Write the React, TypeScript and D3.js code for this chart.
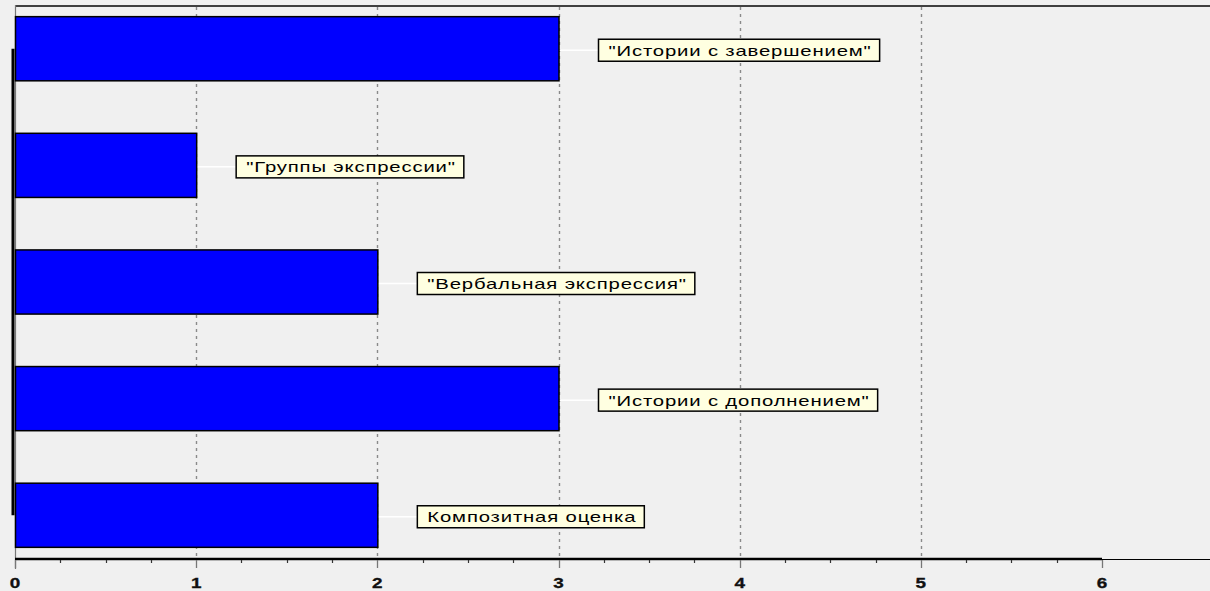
import React, { useEffect, useRef } from "react";
import * as d3 from "d3";

const categories = [
  "\"Истории с завершением\"",
  "\"Группы экспрессии\"",
  "\"Вербальная экспрессия\"",
  "\"Истории с дополнением\"",
  "Композитная оценка",
];
const values = [3, 1, 2, 3, 2];
const xTicks = [0, 1, 2, 3, 4, 5, 6];
const gridTicks = [1, 2, 3, 4, 5];

const W = 1210;
const H = 591;
const SX = 1.4;

export default function App() {
  const ref = useRef<SVGSVGElement>(null);

  useEffect(() => {
    const svg = d3.select(ref.current);
    svg.selectAll("*").remove();

    const x = d3.scaleLinear().domain([0, 6]).range([15, 1102]);
    const y = d3
      .scaleBand<string>()
      .domain(categories)
      .range([5, 559])
      .paddingInner(0.45)
      .paddingOuter(0.1);

    svg.append("rect").attr("width", W).attr("height", H).attr("fill", "#f0f0f0");

    // gridlines
    svg
      .selectAll("line.grid")
      .data(gridTicks)
      .join("line")
      .attr("x1", (d) => Math.round(x(d)) + 0.5)
      .attr("x2", (d) => Math.round(x(d)) + 0.5)
      .attr("y1", 7)
      .attr("y2", 558)
      .attr("stroke", "#8a8a8a")
      .attr("stroke-width", 1.4)
      .attr("stroke-dasharray", "3 4");

    // frame top
    svg
      .append("line")
      .attr("x1", 15)
      .attr("x2", W)
      .attr("y1", 6)
      .attr("y2", 6)
      .attr("stroke", "#404040")
      .attr("stroke-width", 2);
    // frame left
    svg
      .append("line")
      .attr("x1", 15.5)
      .attr("x2", 15.5)
      .attr("y1", 5)
      .attr("y2", 569)
      .attr("stroke", "#777")
      .attr("stroke-width", 1.2);
    // left black axis line (spanning category centers)
    const c0 = (y(categories[0]) as number) + y.bandwidth() / 2;
    const c1 = (y(categories[categories.length - 1]) as number) + y.bandwidth() / 2;
    svg
      .append("line")
      .attr("x1", 13)
      .attr("x2", 13)
      .attr("y1", c0)
      .attr("y2", c1)
      .attr("stroke", "#000")
      .attr("stroke-width", 3);

    // connectors
    svg
      .selectAll("line.conn")
      .data(values)
      .join("line")
      .attr("x1", (d) => x(d))
      .attr("x2", (d) => x(d) + 40)
      .attr("y1", (_, i) => (y(categories[i]) as number) + y.bandwidth() / 2 + 1.5)
      .attr("y2", (_, i) => (y(categories[i]) as number) + y.bandwidth() / 2 + 1.5)
      .attr("stroke", "#ffffff")
      .attr("stroke-width", 1.5);

    // bars
    svg
      .selectAll("rect.bar")
      .data(values)
      .join("rect")
      .attr("x", x(0) + 0.5)
      .attr("y", (_, i) => y(categories[i]) as number)
      .attr("width", (d) => x(d) - x(0))
      .attr("height", y.bandwidth())
      .attr("fill", "#0000ff")
      .attr("stroke", "#000")
      .attr("stroke-width", 1.5);

    // labels
    const lg = svg
      .selectAll("g.lab")
      .data(values)
      .join("g")
      .attr(
        "transform",
        (d, i) =>
          `translate(${x(d) + 40},${(y(categories[i]) as number) + y.bandwidth() / 2 + 1.5})`
      );
    const boxes = lg
      .append("rect")
      .attr("y", -11)
      .attr("height", 22)
      .attr("fill", "#ffffe1")
      .attr("stroke", "#000")
      .attr("stroke-width", 1.5);
    const texts = lg
      .append("text")
      .attr("transform", `translate(10,5.5) scale(${SX},1)`)
      .attr("font-family", "Arial, 'Liberation Sans', sans-serif")
      .attr("font-size", 14.5)
      .attr("letter-spacing", 0.6)
      .attr("fill", "#000")
      .text((_, i) => categories[i]);
    texts.each(function (_, i) {
      const w = (this as SVGTextElement).getComputedTextLength() * SX;
      d3.select(boxes.nodes()[i]).attr("width", w + 18);
    });

    // bottom axis
    svg
      .append("line")
      .attr("x1", 15)
      .attr("x2", W)
      .attr("y1", 559.5)
      .attr("y2", 559.5)
      .attr("stroke", "#000")
      .attr("stroke-width", 1.2);
    svg
      .append("line")
      .attr("x1", 15)
      .attr("x2", x(6))
      .attr("y1", 559)
      .attr("y2", 559)
      .attr("stroke", "#000")
      .attr("stroke-width", 2.5);

    const minor = d3.range(0, 6, 0.25).filter((v) => v % 1 !== 0);
    svg
      .selectAll("line.minor")
      .data(minor)
      .join("line")
      .attr("x1", (d) => Math.round(x(d)) + 0.5)
      .attr("x2", (d) => Math.round(x(d)) + 0.5)
      .attr("y1", 560)
      .attr("y2", 563)
      .attr("stroke", "#333")
      .attr("stroke-width", 1.2);
    svg
      .selectAll("line.major")
      .data(xTicks)
      .join("line")
      .attr("x1", (d) => Math.round(x(d)) + 0.5)
      .attr("x2", (d) => Math.round(x(d)) + 0.5)
      .attr("y1", 560)
      .attr("y2", 568)
      .attr("stroke", "#777")
      .attr("stroke-width", 1.3);
    svg
      .selectAll("text.tick")
      .data(xTicks)
      .join("text")
      .attr("transform", (d) => `translate(${x(d)},587.5) scale(1.35,1)`)
      .attr("text-anchor", "middle")
      .attr("font-family", "'Liberation Sans', Arial, sans-serif")
      .attr("font-weight", 700)
      .attr("font-size", 14)
      .attr("fill", "#111")
      .attr("stroke", "#111")
      .attr("stroke-width", 0.3)
      .text((d) => String(d));
  }, []);

  return (
    <svg
      ref={ref}
      width={W}
      height={H}
      style={{ position: "fixed", left: 0, top: 0, display: "block" }}
    />
  );
}
